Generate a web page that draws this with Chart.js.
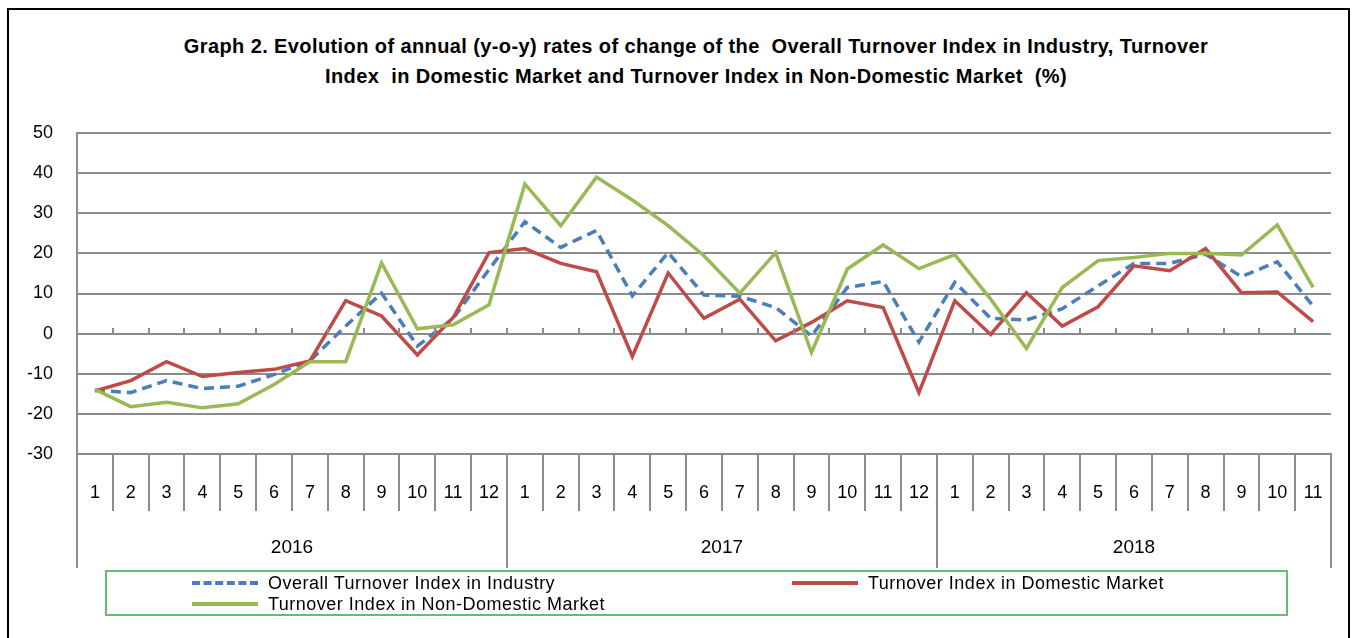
<!DOCTYPE html>
<html lang="en">
<head>
<meta charset="UTF-8">
<title>Graph 2</title>
<style>
  html, body { margin: 0; padding: 0; background: #fff; }
  #wrap { position: relative; width: 1357px; height: 638px; overflow: hidden; font-family: "Liberation Sans", Arial, sans-serif; }
  #frame { position: absolute; left: 7px; top: 8px; width: 1343px; height: 640px; border: 2px solid #000; box-sizing: border-box; }
  #title { position: absolute; left: 0; width: 1392px; top: 31px; text-align: center; font-weight: bold; font-size: 20px; letter-spacing: 0.4px; line-height: 30px; color: #000; }
  canvas { position: absolute; left: 0; top: 0; }
  #legend { position: absolute; left: 105px; top: 570px; width: 1183px; height: 46px; border: 2px solid #66bb77; box-sizing: border-box; font-size: 18px; letter-spacing: 0.5px; color: #000; }
  .item { position: absolute; white-space: nowrap; line-height: 20px; }
  .swatch { display: inline-block; width: 66px; vertical-align: middle; margin-right: 10px; margin-top: -3px; }
</style>
</head>
<body>
<div id="wrap">
  <div id="frame"></div>
  <div id="title">Graph 2. Evolution of annual (y-o-y) rates of change of the&nbsp; Overall Turnover Index in Industry, Turnover<br>Index&nbsp; in Domestic Market and Turnover Index in Non-Domestic Market&nbsp; (%)</div>
  <canvas id="myChart" width="1357" height="638"></canvas>
  <div id="legend">
    <div class="item" style="left:85px; top:1px;"><span class="swatch" style="border-top:4px dashed #4a7ebb;"></span>Overall Turnover Index in Industry</div>
    <div class="item" style="left:685px; top:1px;"><span class="swatch" style="border-top:4px solid #be4b48;"></span>Turnover Index in Domestic Market</div>
    <div class="item" style="left:85px; top:22px;"><span class="swatch" style="border-top:4px solid #98b954;"></span>Turnover Index in Non-Domestic Market</div>
  </div>
</div>
<script src="https://cdn.jsdelivr.net/npm/chart.js"></script>
<script>
    const months = ['1','2','3','4','5','6','7','8','9','10','11','12',
                    '1','2','3','4','5','6','7','8','9','10','11','12',
                    '1','2','3','4','5','6','7','8','9','10','11'];
    const years = ['2016', '2017', '2018'];
    const yearLengths = [12, 12, 11];
    const yTicks = [-30, -20, -10, 0, 10, 20, 30, 40, 50];

    const overall = [-14.1, -14.7, -11.7, -13.7, -13.1, -10.2, -6.8, 1.9, 10.1, -3.1, 3.8, 16.0,
                     27.9, 21.5, 25.7, 9.4, 20.2, 9.6, 9.3, 6.5, -0.6, 11.5, 13.0, -2.1,
                     12.8, 3.8, 3.4, 6.2, 11.9, 17.5, 17.5, 19.8, 14.2, 17.9, 6.9];
    const domestic = [-14.3, -11.7, -7.0, -10.7, -9.7, -8.9, -6.8, 8.2, 4.4, -5.3, 4.0, 20.2,
                      21.2, 17.5, 15.4, -5.7, 15.1, 3.8, 8.6, -1.8, 2.8, 8.2, 6.5, -14.7,
                      8.2, -0.2, 10.2, 1.9, 6.7, 16.9, 15.7, 21.2, 10.2, 10.4, 3.0];
    const nonDomestic = [-13.9, -18.2, -17.1, -18.5, -17.5, -12.7, -7.0, -7.0, 17.6, 1.2, 2.2, 7.2,
                         37.3, 26.9, 39.0, 33.3, 26.9, 19.4, 10.1, 20.2, -4.7, 16.1, 22.1, 16.2,
                         19.7, 8.6, -3.7, 11.5, 18.2, 19.0, 20.0, 20.0, 19.6, 27.1, 11.5];

    const gridGray = '#8c8c8c';
    const fontFamily = '"Liberation Sans", Arial, sans-serif';

    // year row, group separators and the small ticks on the zero line
    const multiLevelAxis = {
        id: 'multiLevelAxis',
        afterDraw(chart) {
            const { ctx, chartArea, scales } = chart;
            const x = scales.x, y = scales.y;
            const half = (x.getPixelForValue(1) - x.getPixelForValue(0)) / 2;
            const bottom = chartArea.bottom;
            ctx.save();
            ctx.strokeStyle = gridGray;
            ctx.lineWidth = 2;
            // group separators
            let start = 0;
            const bounds = [0];
            yearLengths.forEach(n => { start += n; bounds.push(start); });
            bounds.forEach(b => {
                const px = Math.round(x.getPixelForValue(b) - half);
                ctx.beginPath();
                ctx.moveTo(px, bottom);
                ctx.lineTo(px, bottom + 114);
                ctx.stroke();
            });
            // year labels
            ctx.fillStyle = '#000';
            ctx.font = '19px ' + fontFamily;
            ctx.textAlign = 'center';
            ctx.textBaseline = 'middle';
            years.forEach((yr, i) => {
                const a = x.getPixelForValue(bounds[i]) - half;
                const b = x.getPixelForValue(bounds[i + 1]) - half;
                ctx.fillText(yr, (a + b) / 2, bottom + 94);
            });
            // ticks on the zero line
            const y0 = Math.round(y.getPixelForValue(0));
            for (let i = 1; i < months.length; i++) {
                const px = Math.round(x.getPixelForValue(i) - half);
                ctx.beginPath();
                ctx.moveTo(px, y0);
                ctx.lineTo(px, y0 - 6);
                ctx.stroke();
            }
            ctx.restore();
        }
    };

    const ctx = document.getElementById('myChart').getContext('2d');
    const chart = new Chart(ctx, {
        type: 'line',
        data: {
            labels: months,
            datasets: [{
                label: 'Overall Turnover Index in Industry',
                data: overall,
                borderColor: '#4a7ebb',
                borderWidth: 3.5,
                borderDash: [10, 6],
                pointRadius: 0,
                tension: 0,
                order: 3
            }, {
                label: 'Turnover Index in Domestic Market',
                data: domestic,
                borderColor: '#be4b48',
                borderWidth: 3.5,
                pointRadius: 0,
                tension: 0,
                order: 2
            }, {
                label: 'Turnover Index in Non-Domestic Market',
                data: nonDomestic,
                borderColor: '#98b954',
                borderWidth: 3.5,
                pointRadius: 0,
                tension: 0,
                order: 1
            }]
        },
        options: {
            responsive: false,
            animation: false,
            layout: { padding: { left: 10, right: 26, top: 133, bottom: 70 } },
            plugins: {
                legend: { display: false },
                title: { display: false },
                tooltip: { enabled: false }
            },
            scales: {
                x: {
                    offset: true,
                    grid: {
                        offset: true,
                        drawOnChartArea: false,
                        color: gridGray,
                        lineWidth: 2,
                        tickLength: 57
                    },
                    border: { color: gridGray, width: 2 },
                    ticks: {
                        color: '#000',
                        font: { family: fontFamily, size: 18 },
                        padding: -29,
                        maxRotation: 0,
                        autoSkip: false
                    },
                    afterFit(scale) { scale.height = 114; }
                },
                y: {
                    min: -30,
                    max: 50,
                    afterBuildTicks(scale) { scale.ticks = yTicks.map(v => ({ value: v })); },
                    grid: { color: gridGray, lineWidth: 2, drawTicks: false },
                    border: { color: gridGray, width: 2 },
                    ticks: {
                        color: '#000',
                        padding: 24,
                        font: { family: fontFamily, size: 18 }
                    },
                    afterFit(scale) { scale.width = 67; }
                }
            }
        },
        plugins: [multiLevelAxis]
    });
</script>
</body>
</html>
